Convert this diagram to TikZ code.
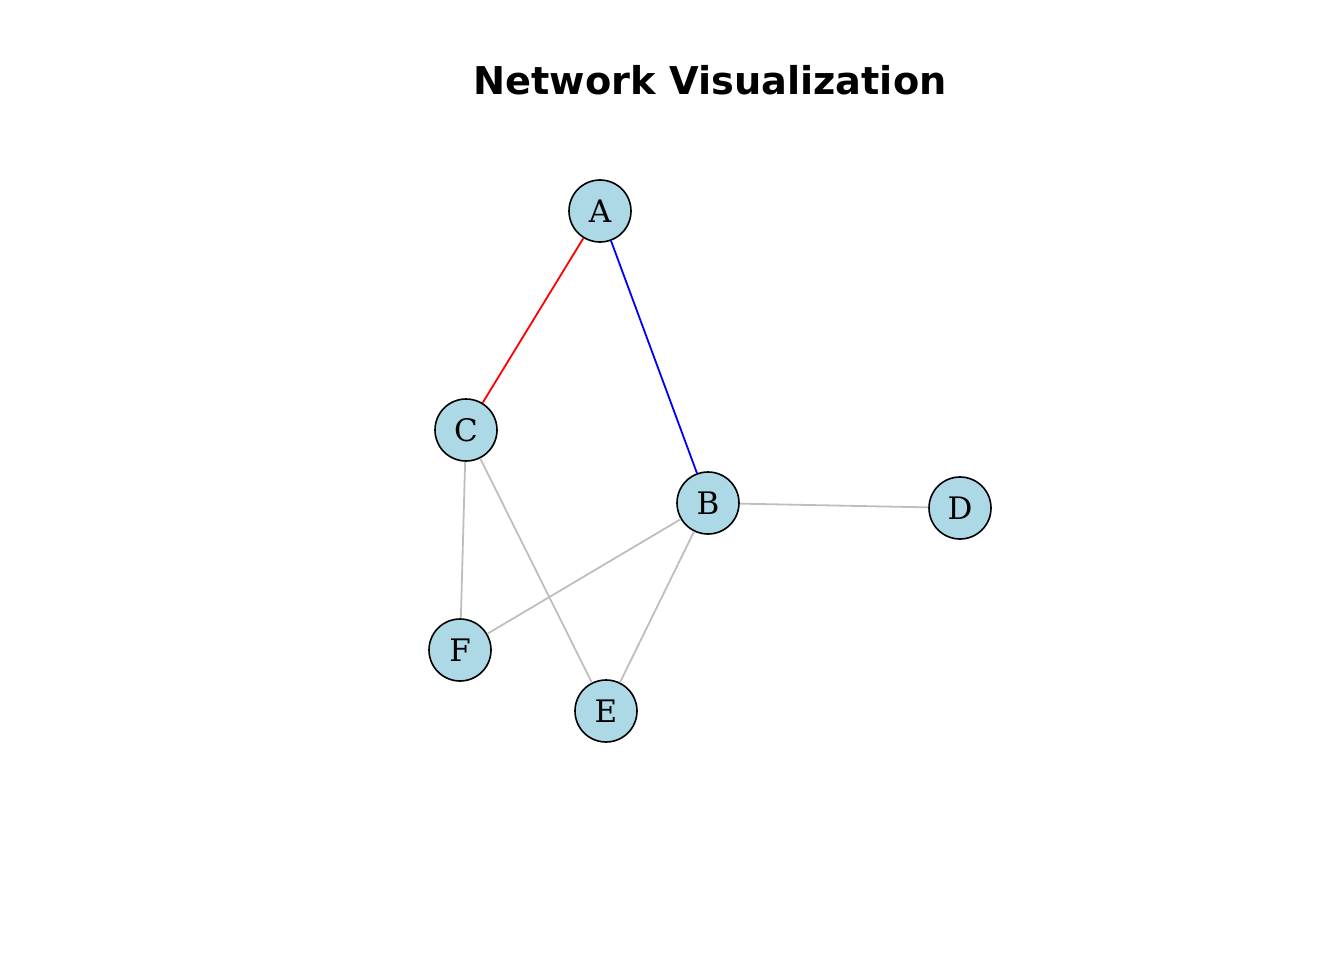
\documentclass[tikz,border=0pt]{standalone}
\usepackage{fontspec}
\newfontfamily\titlefont{DejaVu Sans}
\newfontfamily\labelfont{DejaVu Serif}
\definecolor{nodeblue}{RGB}{173,216,230}
\definecolor{edgegray}{RGB}{190,190,190}

\tikzset{
  vertex/.style = {circle, draw = black, fill = nodeblue, line width = 1.6pt,
    minimum size = 62pt, inner sep = 0pt, font = \labelfont\fontsize{31}{31}\selectfont},
  edge/.style = {line width = 1.8pt, draw = edgegray}
}

\begin{document}
\begin{tikzpicture}[x = 1pt, y = -1pt]
  \pgfmathsetmacro{\W}{1344}
  \pgfmathsetmacro{\H}{960}
  \useasboundingbox (0, 0) rectangle (\W, \H);

  \node[font = \titlefont\bfseries\fontsize{38.3}{38.3}\selectfont] (title) at (710, 80)
  {Network Visualization};

  \node[vertex] (A) at (600, 211) {A};
  \node[vertex] (C) at (466, 430) {C};
  \node[vertex] (B) at (708, 503) {B};
  \node[vertex] (D) at (960, 508) {D};
  \node[vertex] (F) at (460, 650) {F};
  \node[vertex] (E) at (606, 711) {E};

  \draw[edge, draw = red] (A) -- (C);
  \draw[edge, draw = blue] (A) -- (B);
  \foreach \u/\v in {B/D, B/F, B/E, C/F, C/E}{
    \draw[edge] (\u) -- (\v);
  }
\end{tikzpicture}
\end{document}
